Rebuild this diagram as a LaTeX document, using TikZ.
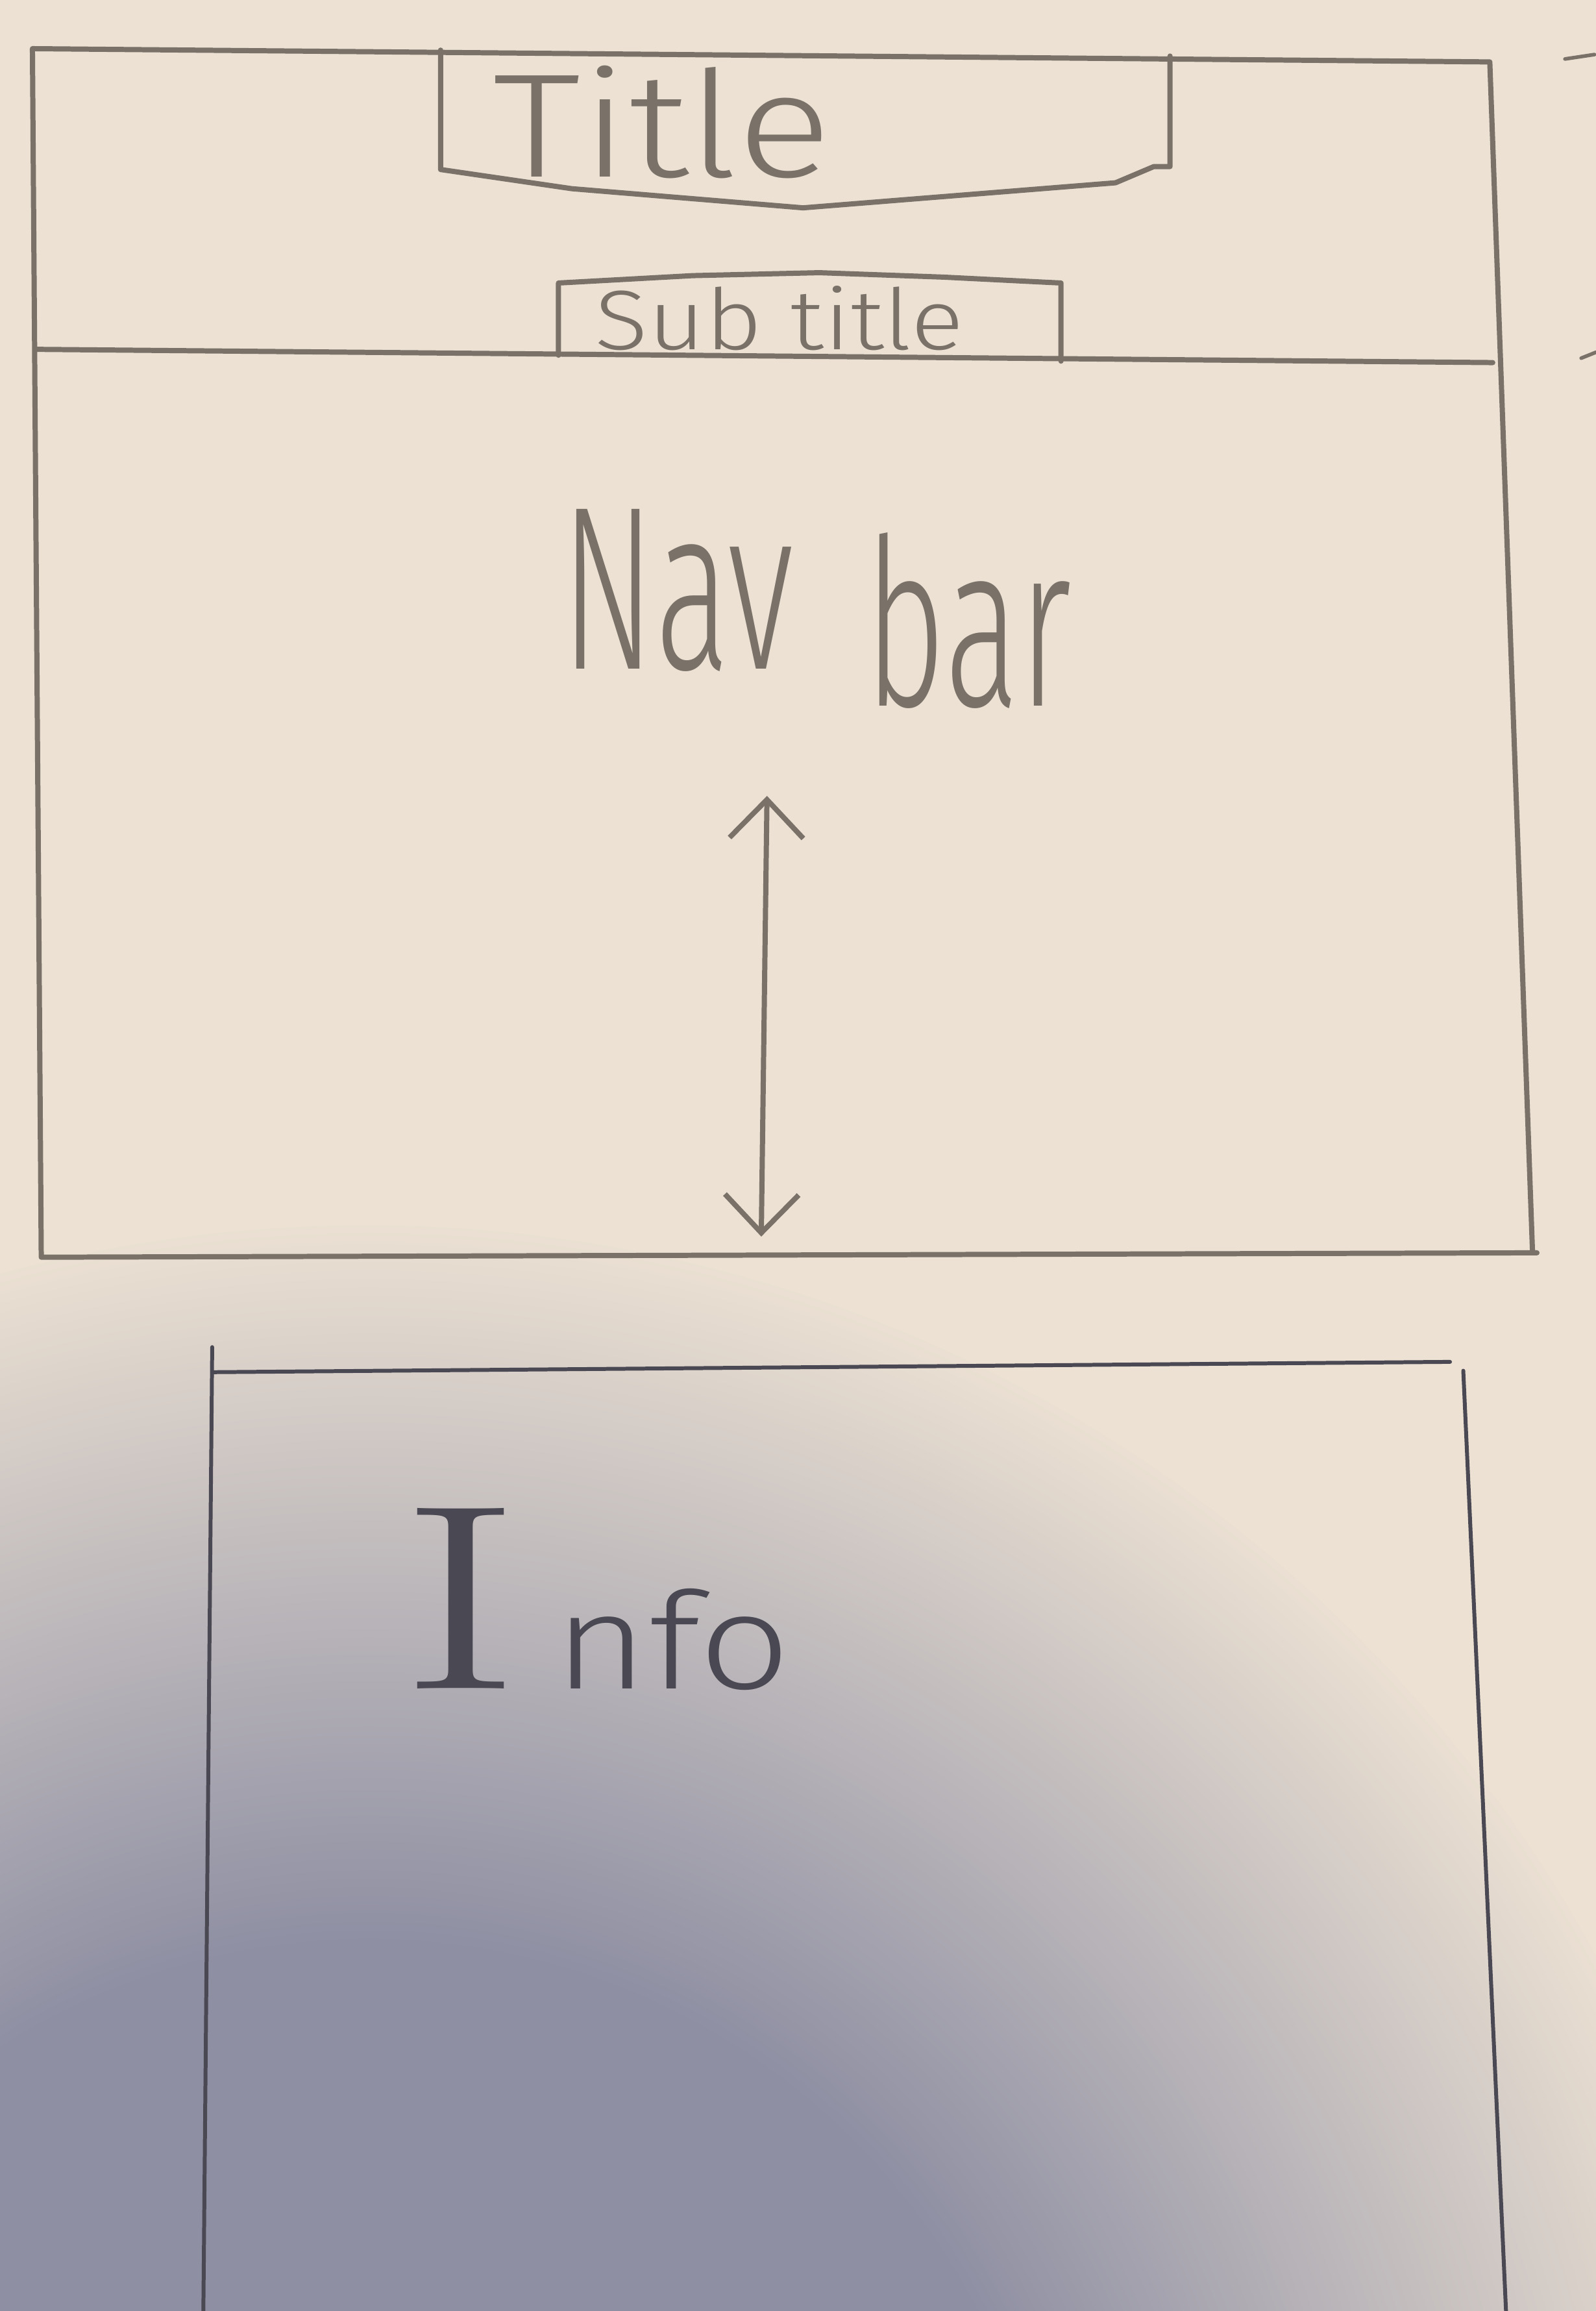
\documentclass[tikz,border=0pt]{standalone}
\usepackage{fontspec}
\setmainfont{Fira Sans Light}
\newfontfamily\serifI{Latin Modern Roman}
\usetikzlibrary{arrows.meta,fadings}
\definecolor{paper}{RGB}{236,225,211}
\definecolor{shadowcol}{RGB}{142,143,163}
\definecolor{pencil}{RGB}{122,114,104}
\definecolor{pencildark}{RGB}{74,72,82}
\pgfdeclareradialshading{softshade}{\pgfpoint{0bp}{0bp}}{color(0bp)=(white); color(12bp)=(white); color(25bp)=(black); color(50bp)=(black)}
\pgfdeclarefading{softfade}{\pgfuseshading{softshade}}
\tikzset{
  pencilline/.style={draw=pencil, line width=1pt, line join=round, line cap=round},
  darkline/.style={draw=pencildark, line width=0.75pt, line join=round, line cap=round},
  handtext/.style={text=pencil, inner sep=0pt, anchor=base west},
  darktext/.style={text=pencildark, inner sep=0pt, anchor=base west},
  handbarb/.tip={Straight Barb[length=2.6mm,width=5mm]}
}
\begin{document}
\begin{tikzpicture}[x=0.01cm,y=-0.01cm]
\useasboundingbox (0,0) rectangle (1083,1568);
% paper and shadow
\fill[paper] (0,0) rectangle (1083,1568);
\begin{scope}
  \clip (0,0) rectangle (1083,1568);
  \fill[shadowcol, path fading=softfade] (250,1780) circle [radius=9.5cm];
\end{scope}

% outer header / nav frame
\draw[pencilline] (22,33) -- (1011,42) -- (1040,850) -- (1043,850) -- (28,853) -- cycle;
\draw[pencilline] (24,237) -- (1013,246);

% stray marks at right edge
\draw[pencilline, line width=0.7pt] (1062,40) -- (1082,37);
\draw[pencilline, line width=0.7pt] (1073,243) -- (1083,239);

% title box
\draw[pencilline] (299,34) -- (299,115) -- (388,128) -- (545,141) -- (757,124) -- (783,113) -- (794,113) -- (794,38);
\node[handtext] (title) at (334,120) {\fontsize{28.5}{28.5}\selectfont\scalebox{1.2}[1]{Title}};

% subtitle box
\draw[pencilline] (379,241) -- (379,192) -- (470,187) -- (556,185) -- (640,188) -- (720,192) -- (720,245);
\node[handtext] (subtitle) at (403,237) {\fontsize{16.3}{16.3}\selectfont\scalebox{1.17}[1]{Sub title}};

% nav bar label
\node[handtext] (navbar) at (380,454) {\fontsize{45}{45}\selectfont\scalebox{0.6}[1]{Nav}\hspace{0.48cm}\raisebox{-0.25cm}{\scalebox{0.6}[1]{bar}}};

% double arrow
\coordinate (atop) at (520.5,540);
\coordinate (abot) at (516.6,839);
\draw[pencilline, handbarb-handbarb] (atop) -- (abot);

% info box
\draw[darkline] (144,914) -- (138,1568);
\draw[darkline] (145,931) -- (984,924);
\draw[darkline] (993,930) -- (1022,1568);
\node[darktext] (info) at (271,1146) {{\serifI\fontsize{51}{51}\selectfont\scalebox{1.4}[1]{I}}\hspace{0.22cm}{\fontsize{26}{26}\selectfont\scalebox{1.2}[1]{nfo}}};
\end{tikzpicture}
\end{document}
